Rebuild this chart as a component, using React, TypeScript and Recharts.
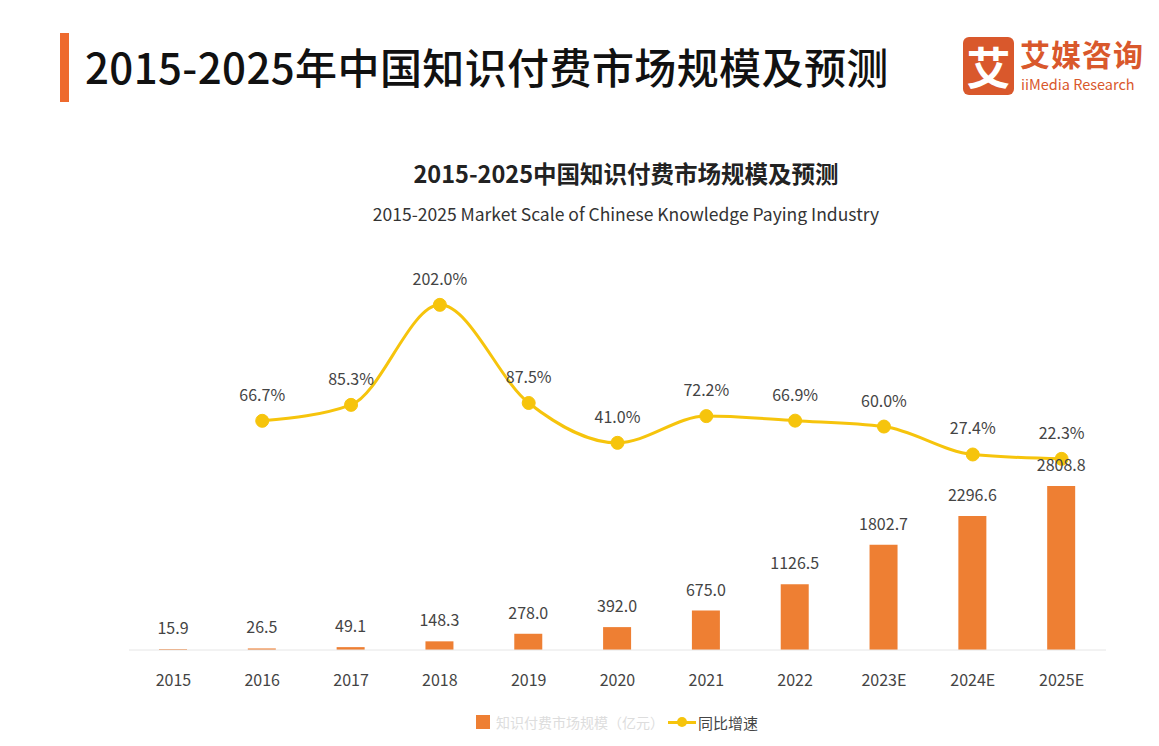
import React from 'react';
import { ComposedChart, Bar, Line, XAxis, YAxis, LabelList } from 'recharts';

const categories = ['2015', '2016', '2017', '2018', '2019', '2020', '2021', '2022', '2023E', '2024E', '2025E'];
const marketScale = [15.9, 26.5, 49.1, 148.3, 278.0, 392.0, 675.0, 1126.5, 1802.7, 2296.6, 2808.8];
const growthRate: (number | null)[] = [null, 66.7, 85.3, 202.0, 87.5, 41.0, 72.2, 66.9, 60.0, 27.4, 22.3];

const data = categories.map((c, i) => ({ year: c, scale: marketScale[i], growth: growthRate[i] }));

const FONT = '"Noto Sans CJK SC", "Noto Sans", sans-serif';
const BAR = '#EE7F33';
const LINE = '#F6C40C';

const XTick = (props: any) => {
  const { x, y, payload } = props;
  return (
    <text x={x} y={y + 21} textAnchor="middle" dominantBaseline="central" fill="#444" fontSize={16} fontFamily={FONT}>
      {payload.value}
    </text>
  );
};

export default function App() {
  return (
    <div style={{ position: 'absolute', left: 0, top: 0, width: 1159, height: 746, background: '#fff', fontFamily: FONT }}>
      <div style={{ position: 'absolute', left: 60, top: 33, width: 9, height: 69, background: '#EE6A2E' }} />
      <div style={{ position: 'absolute', left: 85, top: 35, fontSize: 42, lineHeight: '62px', color: '#111', fontWeight: 500, letterSpacing: 0.4, whiteSpace: 'nowrap' }}>
        2015-2025年中国知识付费市场规模及预测
      </div>
      <div style={{ position: 'absolute', left: 963, top: 37, width: 51, height: 58, background: '#D9582C', borderRadius: 6, color: '#fff', fontSize: 44, fontWeight: 700, lineHeight: '58px', textAlign: 'center' }}>
        艾
      </div>
      <div style={{ position: 'absolute', left: 1020, top: 34, fontSize: 30, fontWeight: 700, color: '#D9582C', lineHeight: '38px', letterSpacing: 1, whiteSpace: 'nowrap' }}>
        艾媒咨询
      </div>
      <div style={{ position: 'absolute', left: 1021, top: 75, fontSize: 14.5, color: '#D9582C', lineHeight: '18px', whiteSpace: 'nowrap' }}>
        iiMedia Research
      </div>
      <div style={{ position: 'absolute', left: 0, width: 1252, top: 157, textAlign: 'center', fontSize: 23.5, fontWeight: 700, color: '#222', lineHeight: '32px', whiteSpace: 'nowrap' }}>
        2015-2025中国知识付费市场规模及预测
      </div>
      <div style={{ position: 'absolute', left: 0, width: 1252, top: 201, textAlign: 'center', fontSize: 17.5, color: '#333', lineHeight: '26px', whiteSpace: 'nowrap' }}>
        2015-2025 Market Scale of Chinese Knowledge Paying Industry
      </div>
      <div style={{ position: 'absolute', left: 0, top: 0 }}>
        <ComposedChart width={1159} height={746} data={data} margin={{ top: 250, right: 53, bottom: 66, left: 129 }}>
          <XAxis dataKey="year" height={30} axisLine={{ stroke: '#e6e6e6' }} tickLine={false} tick={<XTick />} interval={0} />
          <YAxis yAxisId="bar" hide domain={[0, 6850]} />
          <YAxis yAxisId="line" hide domain={[-200.7, 266]} allowDataOverflow />
          <Bar yAxisId="bar" dataKey="scale" fill={BAR} barSize={28} isAnimationActive={false}>
            <LabelList dataKey="scale" position="top" offset={15} fill="#444" fontSize={16} fontFamily={FONT} formatter={(v: any) => Number(v).toFixed(1)} />
          </Bar>
          <Line yAxisId="line" dataKey="growth" type="monotone" stroke={LINE} strokeWidth={3} dot={{ r: 6.5, fill: LINE, stroke: LINE, strokeWidth: 1 }} isAnimationActive={false}>
            <LabelList dataKey="growth" position="top" offset={20} fill="#444" fontSize={16} fontFamily={FONT} formatter={(v: any) => (v == null ? '' : Number(v).toFixed(1) + '%')} />
          </Line>
        </ComposedChart>
      </div>
      <div style={{ position: 'absolute', left: 476, top: 712, height: 20, display: 'flex', alignItems: 'center', fontSize: 15, color: '#444' }}>
        <div style={{ width: 14, height: 14, background: BAR }} />
        <span style={{ marginLeft: 6, color: '#ddd', width: 172, fontSize: 14, whiteSpace: 'nowrap', overflow: 'hidden' }}>知识付费市场规模（亿元）</span>
        <div style={{ position: 'relative', width: 28, height: 3, background: LINE }}>
          <div style={{ position: 'absolute', left: 9, top: -4, width: 10, height: 10, borderRadius: 5, background: LINE }} />
        </div>
        <span style={{ marginLeft: 2 }}>同比增速</span>
      </div>
    </div>
  );
}
